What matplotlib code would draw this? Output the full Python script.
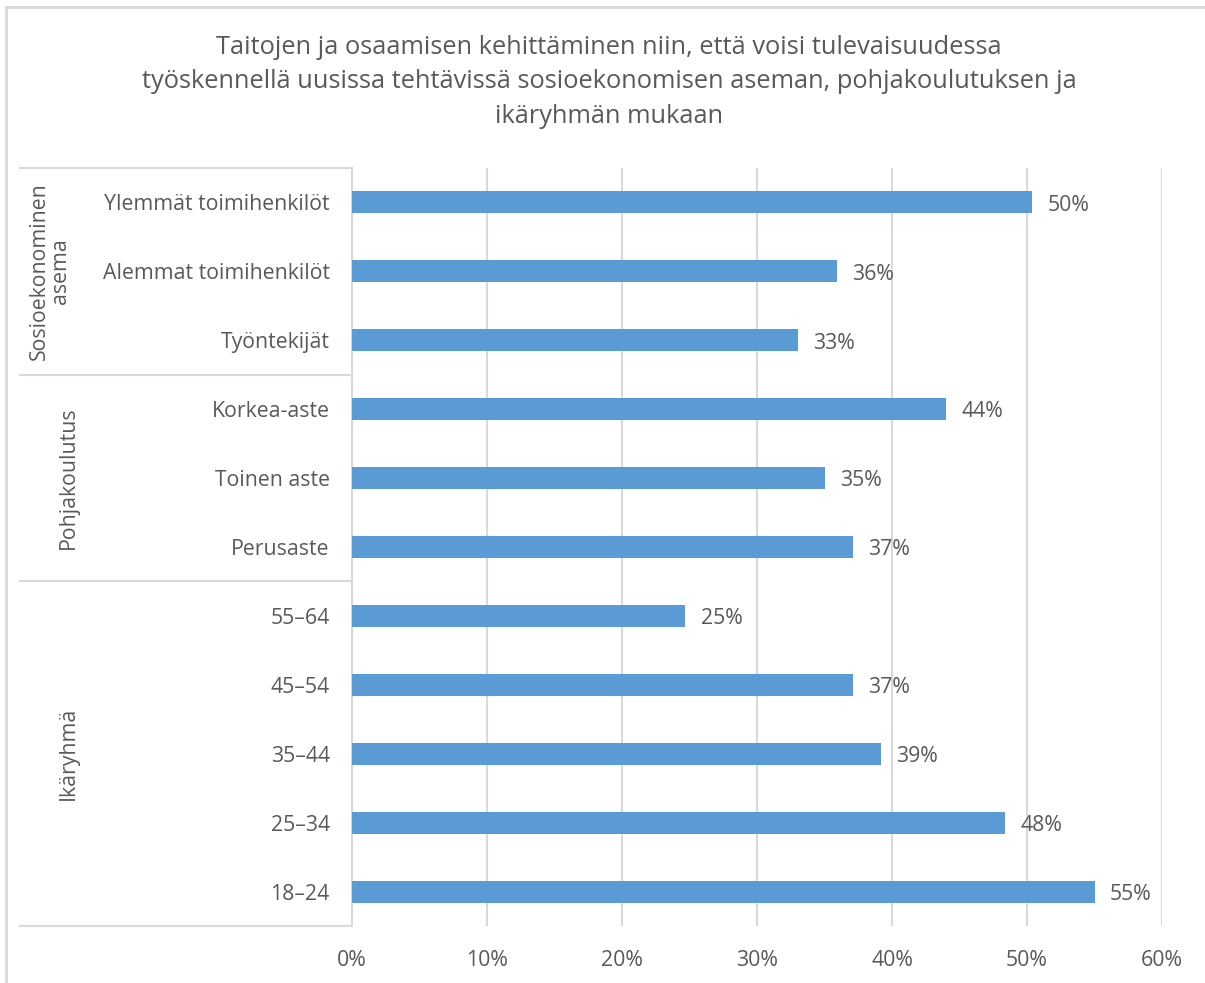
import numpy as np
import matplotlib.pyplot as plt

# Data
categories = ["Ylemmät toimihenkilöt", "Alemmat toimihenkilöt", "Työntekijät",
              "Korkea-aste", "Toinen aste", "Perusaste",
              "55–64", "45–54", "35–44", "25–34", "18–24"]
values = [0.504, 0.359, 0.330, 0.440, 0.350, 0.371, 0.247, 0.371, 0.392, 0.484, 0.550]
groups = ["Sosioekonominen\nasema", "Pohjakoulutus", "Ikäryhmä"]
group_sizes = [3, 3, 5]
xticks = [0, 0.1, 0.2, 0.3, 0.4, 0.5, 0.6]

title = ("Taitojen ja osaamisen kehittäminen niin, että voisi tulevaisuudessa\n"
         "työskennellä uusissa tehtävissä sosioekonomisen aseman, pohjakoulutuksen ja\n"
         "ikäryhmän mukaan")

text_col = "#595959"
grid_col = "#D9D9D9"
bar_col = "#5B9BD5"
fs = 15.3

plt.rcParams["font.family"] = ["Open Sans", "DejaVu Sans"]

W, H = 1205, 983
fig = plt.figure(figsize=(W / 100, H / 100), dpi=100)
ax = fig.add_axes([352 / W, 1 - 926 / H, (1162 - 352) / W, (926 - 168) / H])

y = np.arange(len(categories))
ax.barh(y, values, height=0.32, color=bar_col, zorder=3)
ax.set_ylim(len(categories) - 0.5, -0.5)
ax.set_xlim(0, 0.6)

for yi, v in zip(y, values):
    ax.annotate(f"{round(v * 100):.0f}%", (v, yi), xytext=(11, -2),
                textcoords="offset points", va="center", ha="left",
                fontsize=fs, color=text_col)

ax.set_xticks(xticks)
ax.set_xticklabels([f"{int(round(t * 100))}%" for t in xticks], fontsize=fs, color=text_col)
ax.set_yticks(y)
ax.set_yticklabels(categories, fontsize=fs, color=text_col)
ax.tick_params(length=0)
ax.tick_params(axis="y", pad=16)
ax.tick_params(axis="x", pad=17)
ax.grid(axis="x", color=grid_col, linewidth=1.5, zorder=0)
for s in ["top", "right", "bottom"]:
    ax.spines[s].set_visible(False)
ax.spines["left"].set_color(grid_col)
ax.spines["left"].set_linewidth(1.5)

# group separators and group labels
trans = ax.get_yaxis_transform()
x_left = (20 - 352) / (1162 - 352)
bounds = np.concatenate([[0], np.cumsum(group_sizes)]) - 0.5
for b in bounds:
    ax.plot([x_left, 0], [b, b], transform=trans, color=grid_col, lw=1.5, clip_on=False)
label_x = [(50 - 352) / 810, (68 - 352) / 810, (68 - 352) / 810]
for g, lx, b0, b1 in zip(groups, label_x, bounds[:-1], bounds[1:]):
    ax.text(lx, (b0 + b1) / 2, g, transform=trans, rotation=90, ha="center",
            va="center", fontsize=fs, color=text_col, linespacing=1.0)

fig.text(609 / W, 1 - 82 / H, title, ha="center", va="center", fontsize=18.3,
         color=text_col, linespacing=1.49)

# chart border
fig.add_artist(plt.Line2D([6 / W, 6 / W], [0, 1 - 7 / H], color=grid_col, lw=2))
fig.add_artist(plt.Line2D([6 / W, 1], [1 - 7 / H, 1 - 7 / H], color=grid_col, lw=2))

fig.savefig("out.png", dpi=100)
